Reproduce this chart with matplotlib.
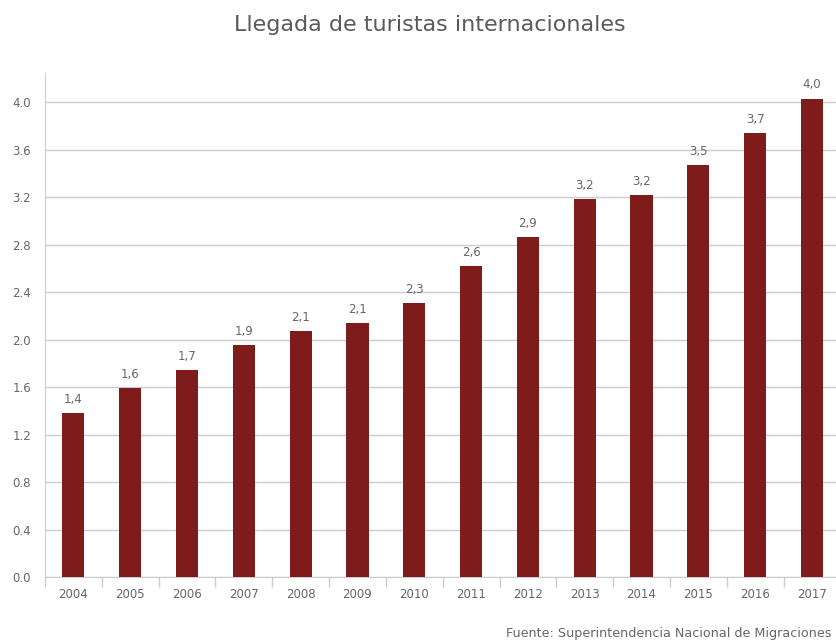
import matplotlib.pyplot as plt
import numpy as np

years = ["2004", "2005", "2006", "2007", "2008", "2009", "2010",
         "2011", "2012", "2013", "2014", "2015", "2016", "2017"]
arrivals = [1.38, 1.59, 1.74, 1.95, 2.07, 2.14, 2.31,
            2.62, 2.86, 3.18, 3.22, 3.47, 3.74, 4.03]
y_ticks = [0.0, 0.4, 0.8, 1.2, 1.6, 2.0, 2.4, 2.8, 3.2, 3.6, 4.0]

BAR = "#7e1c1c"
TEXT = "#666666"
GRID = "#cccccc"

fig = plt.figure(figsize=(8.36, 6.44), dpi=100)
ax = fig.add_axes([45 / 836, 67 / 644, 795.4 / 836, 504 / 644])

x = np.arange(len(years))
ax.bar(x, arrivals, width=0.39, color=BAR, zorder=3)

for xi, v in zip(x, arrivals):
    ax.text(xi, v + 0.06, f"{v:.1f}".replace(".", ","), ha="center", va="bottom",
            fontsize=8.5, color=TEXT)

ax.set_xlim(-0.5, len(years) - 0.5)
ax.set_ylim(0, 4.245)
ax.set_yticks(y_ticks)
ax.set_yticklabels([f"{t:.1f}" for t in y_ticks])
ax.set_xticks(x)
ax.set_xticklabels(years)
ax.set_xticks(np.arange(-0.5, len(years), 1), minor=True)

ax.grid(axis="y", color=GRID, linewidth=1, zorder=0)
ax.tick_params(axis="y", length=0, pad=10, labelsize=8.5, labelcolor=TEXT)
ax.tick_params(axis="x", which="major", length=0, pad=8, labelsize=8.5, labelcolor=TEXT)
ax.tick_params(axis="x", which="minor", length=7, color=GRID, width=1)

for side in ["top", "right"]:
    ax.spines[side].set_visible(False)
ax.spines["left"].set_color(GRID)
ax.spines["bottom"].set_color(GRID)

fig.text(430 / 836, 1 - 25 / 644, "Llegada de turistas internacionales",
         ha="center", va="center", fontsize=16, color="#5a5a5a")
fig.text(832 / 836, 1 - 633 / 644, "Fuente: Superintendencia Nacional de Migraciones",
         ha="right", va="center", fontsize=9.2, color=TEXT)

fig.savefig("out.png", dpi=100)
